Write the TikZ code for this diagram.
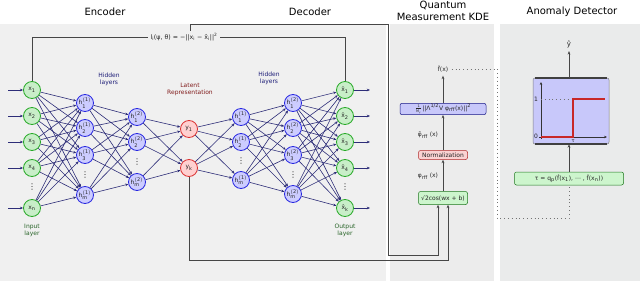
\documentclass[tikz,border=0pt]{standalone}
\usepackage{fontspec}
\setmainfont{DejaVu Sans}
\usetikzlibrary{arrows.meta}
\definecolor{panelA}{RGB}{240,240,240}
\definecolor{panelB}{RGB}{236,236,236}
\definecolor{panelC}{RGB}{234,235,235}
\definecolor{edgec}{RGB}{45,45,120}
\definecolor{ioFill}{RGB}{200,238,200}
\definecolor{ioDraw}{RGB}{40,170,40}
\definecolor{hidFill}{RGB}{204,204,255}
\definecolor{hidDraw}{RGB}{40,40,225}
\definecolor{latFill}{RGB}{255,208,208}
\definecolor{latDraw}{RGB}{220,50,50}
\definecolor{linkc}{RGB}{70,70,70}
\definecolor{navyt}{RGB}{30,30,120}
\definecolor{redt}{RGB}{130,30,30}
\definecolor{greent}{RGB}{40,100,40}
\definecolor{boxBlue}{RGB}{200,200,250}
\definecolor{boxGreen}{RGB}{205,245,205}
\definecolor{boxPink}{RGB}{250,210,210}
\definecolor{stepred}{RGB}{200,40,40}
\newcommand{\hh}[2]{h$^{\mathrm{(#2)}}_{\mathrm{#1}}$}
\newcommand{\xx}[1]{x$_{\mathrm{#1}}$}
\newcommand{\xh}[1]{\^{x}$_{\mathrm{#1}}$}
\begin{document}
\begin{tikzpicture}[x=1pt,y=-1pt,
  every node/.style={font=\fontsize{6}{7}\selectfont, text=black!85},
  neuron/.style={circle,draw,line width=0.8pt,minimum size=17pt,inner sep=0pt},
  io/.style={neuron,draw=ioDraw,fill=ioFill},
  hid/.style={neuron,draw=hidDraw,fill=hidFill},
  lat/.style={neuron,draw=latDraw,fill=latFill},
  conn/.style={draw=edgec,line width=0.6pt,-{Stealth[length=3.2pt,width=2.6pt]}},
  link/.style={draw=linkc,line width=0.8pt},
  arr/.style={-{Stealth[length=3.5pt,width=2.8pt]}},
  title/.style={font=\fontsize{10}{12}\selectfont,text=black,align=center,inner sep=0pt},
  lbl/.style={align=center,inner sep=0pt,font=\fontsize{6}{7}\selectfont},
  qbox/.style={rounded corners=2pt,draw=black!55,line width=0.5pt,inner sep=1.5pt},
  vdot/.style={font=\fontsize{8}{8}\selectfont,inner sep=0pt},
  dotl/.style={draw=black!55,line width=0.6pt,dash pattern=on 0.6pt off 3.2pt}
]
\useasboundingbox (0,0) rectangle (640,284);
% panels
\fill[panelA] (0,24) rectangle (386,281);
\fill[panelB] (390,24) rectangle (494,281);
\fill[panelC] (500,24) rectangle (640,281);
% titles
\node[title] (tEnc) at (105,12) {Encoder};
\node[title] (tDec) at (310,12) {Decoder};
\node[title] (tQ) at (443,11) {Quantum\\Measurement KDE};
\node[title] (tA) at (572,12) {Anomaly Detector};
% input layer
\node[io] (i1) at (32,90) {\xx{1}};
\node[io] (i2) at (32,116) {\xx{2}};
\node[io] (i3) at (32,142) {\xx{3}};
\node[io] (i4) at (32,168) {\xx{4}};
\node[io] (i5) at (32,208) {\xx{n}};
\node[vdot] (vi) at (32,187) {⋮};
% encoder hidden 1
\node[hid] (a1) at (85,103) {\hh{1}{1}};
\node[hid] (a2) at (85,128) {\hh{2}{1}};
\node[hid] (a3) at (85,155) {\hh{3}{1}};
\node[hid] (a4) at (85,195) {\hh{m}{1}};
\node[vdot] (va) at (85,175) {⋮};
% encoder hidden 2
\node[hid] (b1) at (137,117) {\hh{1}{2}};
\node[hid] (b2) at (137,142) {\hh{2}{2}};
\node[hid] (b3) at (137,182) {\hh{m}{2}};
\node[vdot] (vb) at (137,162) {⋮};
% latent
\node[lat] (c1) at (189,129) {y$_{\mathrm{1}}$};
\node[lat] (c2) at (189,168) {y$_{\mathrm{k}}$};
% decoder hidden 1
\node[hid] (d1) at (241,117) {\hh{1}{1}};
\node[hid] (d2) at (241,142) {\hh{2}{1}};
\node[hid] (d3) at (241,180) {\hh{m}{1}};
\node[vdot] (vd) at (241,161) {⋮};
% decoder hidden 2
\node[hid] (e1) at (293,103) {\hh{1}{2}};
\node[hid] (e2) at (293,128) {\hh{2}{2}};
\node[hid] (e3) at (293,155) {\hh{3}{2}};
\node[hid] (e4) at (293,194) {\hh{m}{2}};
\node[vdot] (ve) at (293,175) {⋮};
% output
\node[io] (o1) at (345,90) {\xh{1}};
\node[io] (o2) at (345,116) {\xh{2}};
\node[io] (o3) at (345,142) {\xh{3}};
\node[io] (o4) at (345,168) {\xh{4}};
\node[io] (o5) at (345,208) {\xh{k}};
\node[vdot] (vo) at (345,187) {⋮};
% connections
\foreach \s in {i1,i2,i3,i4,i5} \foreach \t in {a1,a2,a3,a4} \draw[conn] (\s) -- (\t);
\foreach \s in {a1,a2,a3,a4} \foreach \t in {b1,b2,b3} \draw[conn] (\s) -- (\t);
\foreach \s in {b1,b2,b3} \foreach \t in {c1,c2} \draw[conn] (\s) -- (\t);
\foreach \s in {c1,c2} \foreach \t in {d1,d2,d3} \draw[conn] (\s) -- (\t);
\foreach \s in {d1,d2,d3} \foreach \t in {e1,e2,e3,e4} \draw[conn] (\s) -- (\t);
\foreach \s in {e1,e2,e3,e4} \foreach \t in {o1,o2,o3,o4,o5} \draw[conn] (\s) -- (\t);
% input / output arrows
\foreach \n in {i1,i2,i3,i4,i5} {
  \coordinate (in\n) at ([xshift=-24pt]\n.center);
  \draw[conn] (in\n) -- (\n);
}
\foreach \n in {o1,o2,o3,o4,o5} {
  \coordinate (out\n) at ([xshift=25pt]\n.center);
  \draw[conn] (\n) -- (out\n);
}
% labels
\node[lbl,text=navyt] (lh1) at (109,79) {Hidden\\layers};
\node[lbl,text=navyt] (lh2) at (269,78) {Hidden\\layers};
\node[lbl,text=redt] (llat) at (190,89) {Latent\\Representation};
\node[lbl,text=greent] (lin) at (32,230) {Input\\layer};
\node[lbl,text=greent] (lout) at (345,230) {Output\\layer};
% loss
\node[inner sep=2.5pt,font=\fontsize{6.3}{7}\selectfont] (loss) at (184,37)
  {l\textsubscript{i}(ψ, θ) = −||x\textsubscript{i} − \^{x}\textsubscript{i}||\textsuperscript{2}};
\draw[link] (i1.north) |- (loss.west);
\draw[link] (loss.east) -| (o1.north);
% QKDE
\node[qbox,fill=boxGreen,draw=ioDraw!70!black,minimum width=49pt,minimum height=13pt] (cos) at (443,198) {√2cos(wx + b)};
\node[qbox,fill=boxPink,draw=latDraw!80!black,minimum width=49pt,minimum height=9pt,inner sep=0.5pt] (norm) at (443,155) {Normalization};
\node[qbox,fill=boxBlue,draw=hidDraw!60!black,minimum width=86pt,minimum height=10pt,inner sep=0.5pt] (kde) at (443,109)
  {$\frac{\mbox{\fontsize{3.5}{4}\selectfont 1}}{\mbox{\fontsize{3.5}{4}\selectfont M\textsubscript{γ}}}$||Λ\textsuperscript{1/2}V φ\textsubscript{rff}(x)||\textsuperscript{2}};
\node (fx) at (443,69) {\^{f}(x)};
\node (phi) at (428,176) {φ\textsubscript{rff} (x)};
\node (phit) at (428,135) {\~{φ}\textsubscript{rff} (x)};
\draw[link,arr] (cos.north) -- (norm.south);
\draw[link,arr] (norm.north) -- (kde.south);
\draw[link,arr] (kde.north) -- (fx.south);
\coordinate (lu) at (190,24);
\coordinate (lr) at (388,24);
\coordinate (lb) at (388,255);
\coordinate (yb) at (0,260);
\draw[link,arr] (lu |- loss.north) -- (lu) -- (lr) -- (lb) -| ([xshift=-5pt]cos.south);
\draw[link,arr] (c2.south) -- (c2 |- yb) -| ([xshift=5pt]cos.south);
% Anomaly detector
\node[font=\fontsize{7}{8}\selectfont] (yhat) at (569,44) {\^{y}};
\node[rounded corners=2pt,fill=boxBlue,draw=black!50,line width=0.5pt,minimum width=76pt,minimum height=66pt] (plot) at (571,111) {};
\draw[line width=1.6pt,black!75] ([xshift=2pt]plot.north west) -- ([xshift=-2pt]plot.north east);
\draw[line width=1.6pt,black!75] ([xshift=2pt]plot.south west) -- ([xshift=-2pt]plot.south east);
\coordinate (org) at (541,137);
\coordinate (ytop) at (541,82);
\coordinate (xend) at (607,137);
\draw[line width=0.8pt,black!80,-{Stealth[length=3pt,width=2.6pt]}] (541,139) -- (ytop);
\draw[line width=0.8pt,black!80,-{Stealth[length=3pt,width=2.6pt]}] (539,137) -- (xend);
\node[font=\fontsize{6}{7}\selectfont] (one) at (536,99) {1};
\node[font=\fontsize{6}{7}\selectfont] (zero) at (536,136) {0};
\node[font=\fontsize{5}{6}\selectfont,inner sep=0pt] (tl) at (573,141.5) {τ};
\draw[dotl] (541,99) -- (571,99);
\draw[line width=1.1pt,stepred] (org) -- (573,137) -- (573,99) -- (605,99);
\node[qbox,fill=boxGreen,draw=ioDraw!70!black,minimum width=109pt,minimum height=13pt] (tau) at (569,178.5)
  {τ = q\textsubscript{p}(\^{f}(x\textsubscript{1}), ⋯ , \^{f}(x\textsubscript{n}))};
\draw[link,arr] (tau.north) -- (plot.south -| tau.north);
\draw[link,arr] (plot.north -| yhat.south) -- (yhat.south);
\coordinate (dv) at (497,69);
\coordinate (dh) at (497,218);
\draw[dotl] (fx.east) -- (dv) -- (dh) -| (tau.south);
\end{tikzpicture}
\end{document}
